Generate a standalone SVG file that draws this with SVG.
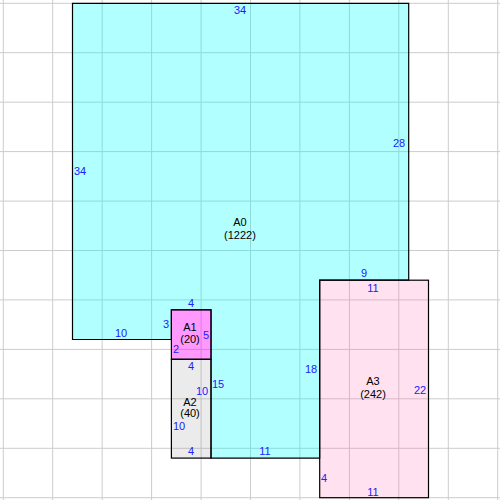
<svg xmlns="http://www.w3.org/2000/svg" width="500" height="500" viewBox="0 0 500 500">
<style>
.grid line{stroke:#cccccc;stroke-width:1}
.shape{stroke:#000;stroke-width:1.2}
.lbl{font-family:"Liberation Sans",Arial,sans-serif;font-size:11px;fill:#000;text-anchor:middle}
.dim{font-family:"Liberation Sans",Arial,sans-serif;font-size:11px;fill:#2020ff;text-anchor:middle}
</style>
<rect x="0" y="0" width="500" height="500" fill="#fff"/>
<g class="grid">
<line x1="3.3" y1="0" x2="3.3" y2="500"/><line x1="52.7" y1="0" x2="52.7" y2="500"/><line x1="102.2" y1="0" x2="102.2" y2="500"/><line x1="151.6" y1="0" x2="151.6" y2="500"/><line x1="201.1" y1="0" x2="201.1" y2="500"/><line x1="250.5" y1="0" x2="250.5" y2="500"/><line x1="299.9" y1="0" x2="299.9" y2="500"/><line x1="349.4" y1="0" x2="349.4" y2="500"/><line x1="398.8" y1="0" x2="398.8" y2="500"/><line x1="448.3" y1="0" x2="448.3" y2="500"/><line x1="497.7" y1="0" x2="497.7" y2="500"/>
<line y1="3.3" x1="0" y2="3.3" x2="500"/><line y1="52.7" x1="0" y2="52.7" x2="500"/><line y1="102.2" x1="0" y2="102.2" x2="500"/><line y1="151.6" x1="0" y2="151.6" x2="500"/><line y1="201.1" x1="0" y2="201.1" x2="500"/><line y1="250.5" x1="0" y2="250.5" x2="500"/><line y1="299.9" x1="0" y2="299.9" x2="500"/><line y1="349.4" x1="0" y2="349.4" x2="500"/><line y1="398.8" x1="0" y2="398.8" x2="500"/><line y1="448.3" x1="0" y2="448.3" x2="500"/><line y1="497.7" x1="0" y2="497.7" x2="500"/>
</g>
<g id="A0">
<polygon class="shape" fill="#00ffff" fill-opacity="0.3" points="72.5,3.3 408.7,3.3 408.7,280.2 319.7,280.2 319.7,458.1 211,458.1 211,309.8 171.4,309.8 171.4,339.5 72.5,339.5"/>
<text class="dim" x="240" y="14">34</text>
<text class="dim" x="399" y="147">28</text>
<text class="dim" x="80" y="175">34</text>
<text class="lbl" x="240" y="226">A0</text>
<text class="lbl" x="240" y="239">(1222)</text>
<text class="dim" x="364" y="277">9</text>
<text class="dim" x="121" y="337">10</text>
<text class="dim" x="166" y="328">3</text>
<text class="dim" x="218" y="388">15</text>
<text class="dim" x="265" y="455">11</text>
<text class="dim" x="311" y="373">18</text>
</g>
<g id="A1">
<rect class="shape" fill="#ff00ff" fill-opacity="0.4" x="171.4" y="309.8" width="39.6" height="49.5"/>
<text class="dim" x="191" y="307">4</text>
<text class="lbl" x="190" y="331">A1</text>
<text class="lbl" x="190" y="343">(20)</text>
<text class="dim" x="206" y="339">5</text>
<text class="dim" x="176" y="353">2</text>
</g>
<g id="A2">
<rect class="shape" fill="#9a9a9a" fill-opacity="0.2" x="171.4" y="359.3" width="39.6" height="98.8"/>
<text class="dim" x="191" y="370">4</text>
<text class="dim" x="202" y="395">10</text>
<text class="lbl" x="190" y="406">A2</text>
<text class="lbl" x="190" y="417">(40)</text>
<text class="dim" x="179" y="430">10</text>
<text class="dim" x="191" y="455">4</text>
</g>
<g id="A3">
<rect class="shape" fill="#ff69b4" fill-opacity="0.2" x="319.7" y="280.2" width="108.8" height="217.5"/>
<text class="dim" x="373" y="292">11</text>
<text class="lbl" x="373" y="385">A3</text>
<text class="lbl" x="373" y="398">(242)</text>
<text class="dim" x="420" y="394">22</text>
<text class="dim" x="324" y="482">4</text>
<text class="dim" x="373" y="496">11</text>
</g>
<g id="connectors"/>
</svg>
